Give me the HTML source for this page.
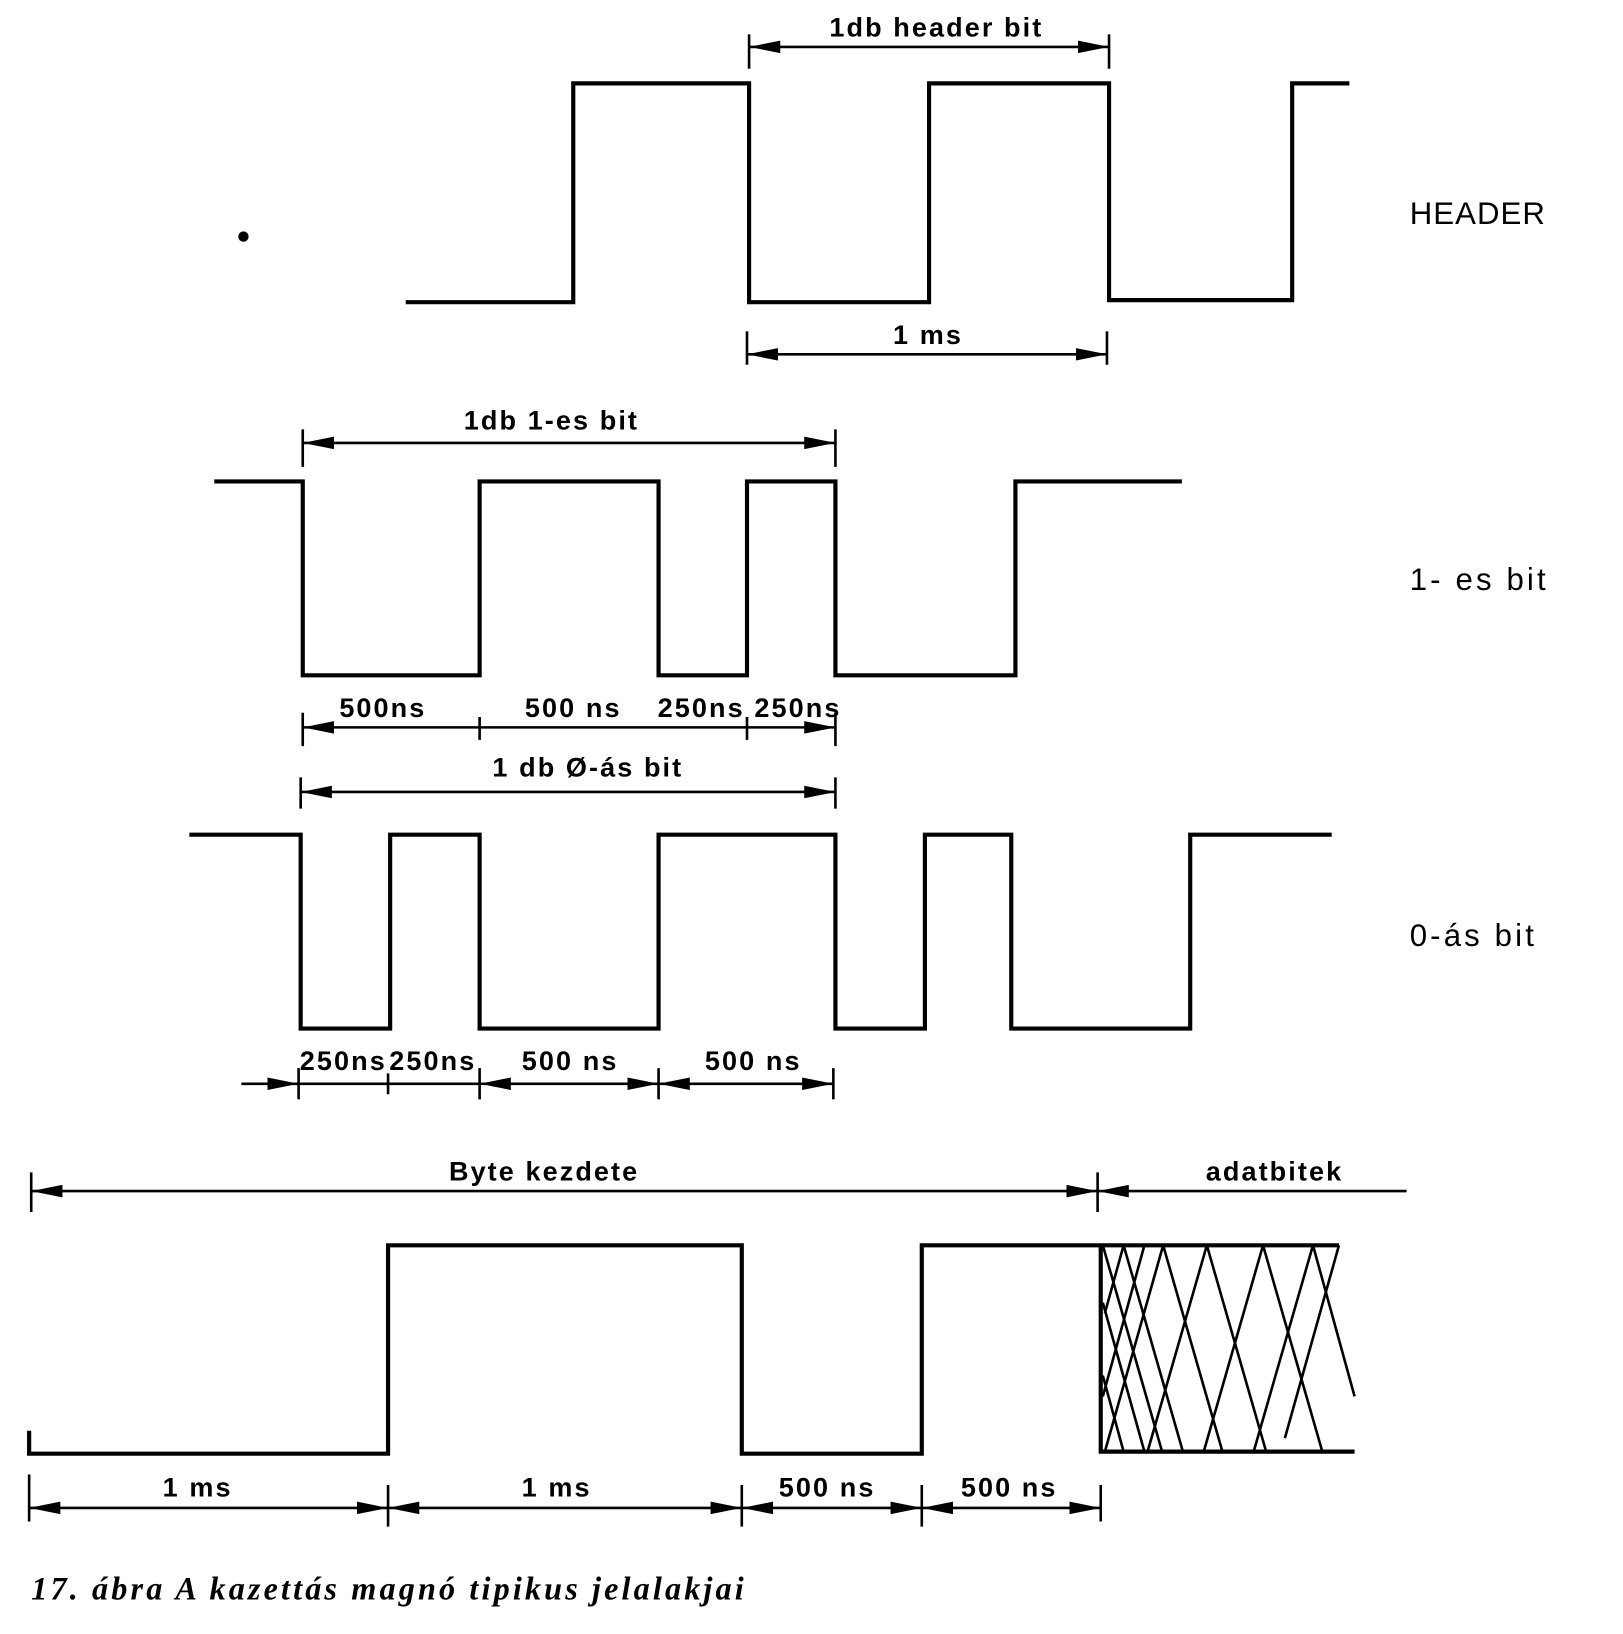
<!DOCTYPE html>
<html><head><meta charset="utf-8"><style>
html,body{margin:0;padding:0;background:#fff;}
svg{display:block;}
text{font-family:"Liberation Sans",sans-serif;font-size:26px;fill:#000;letter-spacing:2px;font-weight:bold;}
</style></head><body>
<svg width="1623" height="1634" viewBox="0 0 1560 1568" preserveAspectRatio="none" xmlns="http://www.w3.org/2000/svg">
<defs>
<marker id="a" markerUnits="userSpaceOnUse" markerWidth="30" markerHeight="12" viewBox="0 0 30 12" refX="30" refY="6" orient="auto-start-reverse"><path d="M0 0 L30 6 L0 12 z" fill="#000"/></marker>
</defs>
<g fill="none" stroke="#000" stroke-width="4">
<path d="M390 290 H551 V80 H720 V290 H893 V80 H1066 V288 H1242 V80 H1297"/>
<path d="M720 33 V66 M1066 33 V66 M718 318 V350 M1064 318 V350" stroke-width="2.5"/>
<line x1="720" y1="45" x2="1066" y2="45" stroke-width="2.5" marker-start="url(#a)" marker-end="url(#a)"/>
<line x1="718" y1="340" x2="1064" y2="340" stroke-width="2.5" marker-start="url(#a)" marker-end="url(#a)"/>
<path d="M206 462 H291 V648 H461 V462 H633 V648 H718 V462 H803 V648 H976 V462 H1136"/>
<path d="M291 412 V448 M803 412 V448 M291 684 V716 M461 688 V710 M718 688 V710 M803 684 V716" stroke-width="2.5"/>
<line x1="291" y1="425" x2="803" y2="425" stroke-width="2.5" marker-start="url(#a)" marker-end="url(#a)"/>
<line x1="291" y1="698" x2="461" y2="698" stroke-width="2.5" marker-start="url(#a)"/>
<line x1="461" y1="698" x2="718" y2="698" stroke-width="2.5"/>
<line x1="718" y1="698" x2="803" y2="698" stroke-width="2.5" marker-end="url(#a)"/>
<line x1="289" y1="760" x2="803" y2="760" stroke-width="2.5" marker-start="url(#a)" marker-end="url(#a)"/>
<path d="M289 746 V776 M803 746 V776" stroke-width="2.5"/>
<path d="M182 801 H289 V987 H375 V801 H461 V987 H633 V801 H803 V987 H889 V801 H972 V987 H1144 V801 H1280"/>
<path d="M287 1025 V1055 M373 1030 V1050 M461 1025 V1055 M633 1025 V1055 M801 1025 V1055" stroke-width="2.5"/>
<line x1="232" y1="1040" x2="287" y2="1040" stroke-width="2.5" marker-end="url(#a)"/>
<line x1="287" y1="1040" x2="461" y2="1040" stroke-width="2.5"/>
<line x1="461" y1="1040" x2="633" y2="1040" stroke-width="2.5" marker-start="url(#a)" marker-end="url(#a)"/>
<line x1="633" y1="1040" x2="801" y2="1040" stroke-width="2.5" marker-start="url(#a)" marker-end="url(#a)"/>
<path d="M30 1125 V1163 M1055 1125 V1163" stroke-width="2.5"/>
<line x1="30" y1="1143" x2="1055" y2="1143" stroke-width="2.5" marker-start="url(#a)" marker-end="url(#a)"/>
<line x1="1055" y1="1143" x2="1352" y2="1143" stroke-width="2.5" marker-start="url(#a)"/>
<path d="M28 1373 V1395 H373 V1195 H713 V1395 H886 V1195 H1058 V1393 H1302 M1058 1195 H1287"/>
<g stroke-width="2.5">
<path d="M1060 1195 L1117 1393 M1080 1195 L1137 1393 M1118 1195 L1175 1393 M1160 1195 L1217 1393 M1214 1195 L1271 1393 M1262 1195 L1302 1340 M1060 1250 L1100 1393 M1060 1320 L1080 1393"/>
<path d="M1080 1195 L1062 1260 M1100 1195 L1060 1340 M1118 1195 L1062 1393 M1160 1195 L1103 1393 M1214 1195 L1157 1393 M1262 1195 L1205 1393 M1287 1195 L1235 1380"/>
</g>
<path d="M28 1415 V1460 M373 1425 V1465 M713 1425 V1465 M886 1425 V1465 M1058 1425 V1460" stroke-width="2.5"/>
<line x1="28" y1="1447" x2="373" y2="1447" stroke-width="2.5" marker-start="url(#a)" marker-end="url(#a)"/>
<line x1="373" y1="1447" x2="713" y2="1447" stroke-width="2.5" marker-start="url(#a)" marker-end="url(#a)"/>
<line x1="713" y1="1447" x2="886" y2="1447" stroke-width="2.5" marker-start="url(#a)" marker-end="url(#a)"/>
<line x1="886" y1="1447" x2="1058" y2="1447" stroke-width="2.5" marker-start="url(#a)" marker-end="url(#a)"/>
</g>
<g text-anchor="middle">
<text x="900" y="35">1db header bit</text>
<text x="892" y="330">1 ms</text>
<text x="530" y="412">1db 1-es bit</text>
<text x="368" y="688">500ns</text>
<text x="551" y="688">500 ns</text>
<text x="674" y="688" letter-spacing="0">250ns</text>
<text x="767" y="688" letter-spacing="0">250ns</text>
<text x="565" y="745">1 db Ø-ás bit</text>
<text x="330" y="1027" letter-spacing="0">250ns</text>
<text x="416" y="1027" letter-spacing="0">250ns</text>
<text x="548" y="1027">500 ns</text>
<text x="724" y="1027">500 ns</text>
<text x="523" y="1133">Byte kezdete</text>
<text x="1225" y="1133">adatbitek</text>
<text x="190" y="1436">1 ms</text>
<text x="535" y="1436">1 ms</text>
<text x="795" y="1436">500 ns</text>
<text x="970" y="1436">500 ns</text>
</g>
<text x="1355" y="215" style="font-size:30px;letter-spacing:1px;font-weight:normal">HEADER</text>
<text x="1355" y="566" style="font-size:30px;letter-spacing:3px;font-weight:normal">1- es  bit</text>
<text x="1355" y="908" style="font-size:30px;letter-spacing:3px;font-weight:normal">0-ás bit</text>
<text x="30" y="1535" style="font-family:'Liberation Serif',serif;font-weight:bold;font-style:italic;font-size:31px;letter-spacing:3px">17. ábra A kazettás magnó tipikus jelalakjai</text>
<circle cx="234" cy="227" r="5" fill="#000"/>
</svg>
</body></html>
